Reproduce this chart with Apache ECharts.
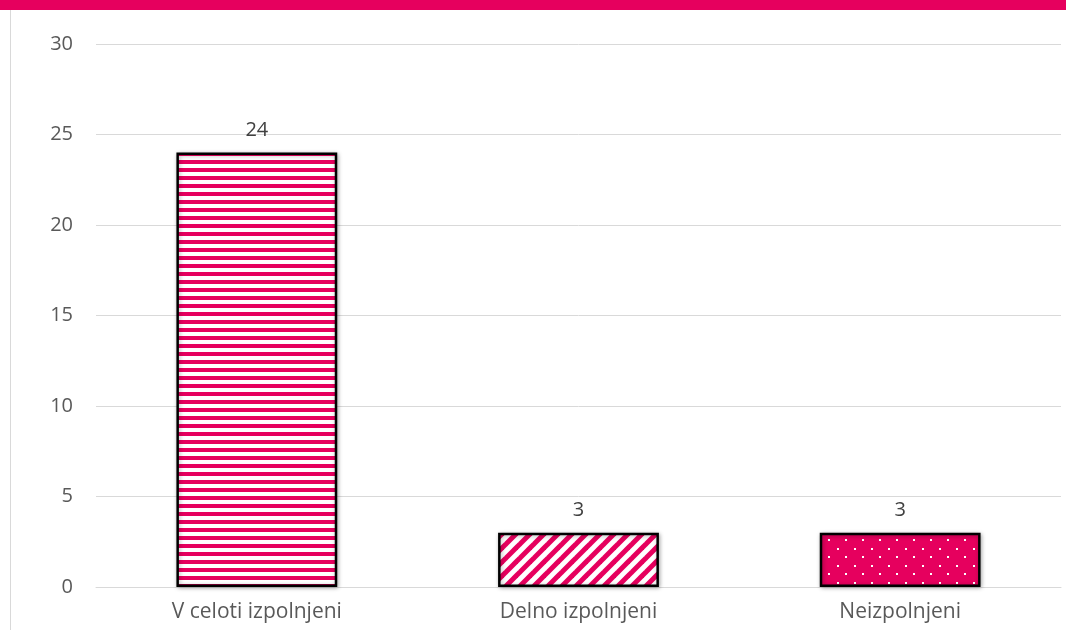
<!DOCTYPE html>
<html><head><meta charset="utf-8">
<script src="https://cdn.jsdelivr.net/npm/echarts@6/dist/echarts.min.js"></script>
<style>html,body{margin:0;padding:0;background:#fff}#c{width:1066px;height:630px}</style>
</head><body><div id="c"></div>
<script>
const categories = ['V celoti izpolnjeni', 'Delno izpolnjeni', 'Neizpolnjeni'];
const values = [24, 3, 3];
const yTicks = {min: 0, max: 30, interval: 5};

const PINK = '#E6005E';
function tile(w, h, draw) {
  const c = document.createElement('canvas');
  c.width = w; c.height = h;
  const ctx = c.getContext('2d');
  draw(ctx, w, h);
  return c;
}
const hStripes = tile(8, 8, (ctx) => {
  ctx.fillStyle = '#fff'; ctx.fillRect(0, 0, 8, 8);
  ctx.fillStyle = PINK; ctx.fillRect(0, 0, 8, 4);
});
const diag = tile(14, 14, (ctx, w, h) => {
  ctx.fillStyle = '#fff'; ctx.fillRect(0, 0, w, h);
  ctx.strokeStyle = PINK; ctx.lineWidth = 5;
  for (let k = -1; k <= 1; k++) {
    ctx.beginPath();
    ctx.moveTo(k * w - 2, h + 2);
    ctx.lineTo(k * w + w + 2, -2);
    ctx.stroke();
  }
});
const dots = tile(17, 17, (ctx, w, h) => {
  ctx.fillStyle = PINK; ctx.fillRect(0, 0, w, h);
  ctx.fillStyle = '#fff';
  ctx.fillRect(4, 4, 2, 2);
  ctx.fillRect(12, 12, 2, 2);
});
const patterns = [hStripes, diag, dots];

const chart = echarts.init(document.getElementById('c'));
chart.setOption({
  animation: false,
  textStyle: {fontFamily: 'Open Sans, Liberation Sans, sans-serif'},
  graphic: [
    {type: 'rect', shape: {x: 0, y: 0, width: 1066, height: 10}, style: {fill: PINK}},
    {type: 'rect', shape: {x: 10, y: 10, width: 1, height: 620}, style: {fill: '#d9d9d9'}}
  ],
  grid: {left: 96, right: 5, top: 44, bottom: 43},
  xAxis: {
    type: 'category', data: categories,
    axisLine: {lineStyle: {color: '#d9d9d9', width: 1}},
    axisTick: {show: false},
    axisLabel: {color: '#595959', fontSize: 21, margin: 15}
  },
  yAxis: {
    type: 'value', min: yTicks.min, max: yTicks.max, interval: yTicks.interval,
    axisLine: {show: false}, axisTick: {show: false},
    splitLine: {lineStyle: {color: '#d9d9d9', width: 1}},
    axisLabel: {color: '#595959', fontSize: 20, margin: 23}
  },
  series: [{
    type: 'bar', barWidth: '50%',
    data: values.map((v, i) => ({
      value: v,
      itemStyle: {color: {image: patterns[i], repeat: 'repeat'}}
    })),
    itemStyle: {borderColor: '#000', borderWidth: 2.5, shadowBlur: 4, shadowColor: 'rgba(0,0,0,0.3)', shadowOffsetX: 1, shadowOffsetY: 1},
    label: {show: true, position: 'top', distance: 12, color: '#404040', fontSize: 20}
  }]
});
</script></body></html>
